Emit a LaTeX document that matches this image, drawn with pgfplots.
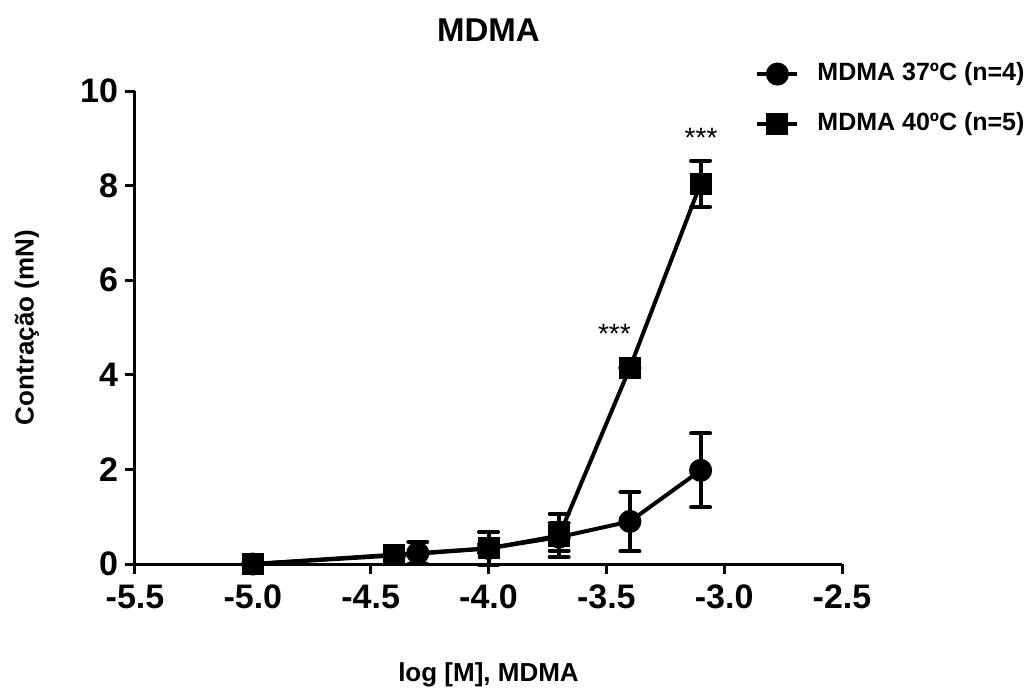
\documentclass[border=0pt]{standalone}
\usepackage{fontspec}
\setmainfont{Liberation Sans}
\usepackage{pgfplots}
\usepackage{pgfplotstable}
\pgfplotsset{compat=1.18}
\pgfplotstableread{
x y e
-5.0 0.00 0.00
-4.3 0.23 0.24
-4.0 0.33 0.10
-3.7 0.57 0.29
-3.4 0.90 0.63
-3.1 1.98 0.78
}\tabA
\pgfplotstableread{
x y e
-5.0 0.00 0.00
-4.4 0.18 0.03
-4.0 0.33 0.35
-3.7 0.60 0.46
-3.4 4.15 0.00
-3.1 8.04 0.49
}\tabB
\begin{document}
\begin{tikzpicture}[x=1pt,y=1pt]
\useasboundingbox (0,0) rectangle (517,346.5);
\begin{axis}[
  at={(67.5pt,64.5pt)}, anchor=south west,
  scale only axis, width=353.5pt, height=236.5pt,
  xmin=-5.5, xmax=-2.5, ymin=0, ymax=10,
  axis x line=bottom, axis y line=left,
  axis line style={line width=1.5pt, -},
  xtick={-5.5,-5,-4.5,-4,-3.5,-3,-2.5}, ytick={0,2,4,6,8,10},
  tick align=outside, major tick length=5pt,
  every tick/.style={black, line width=1.5pt},
  /pgf/number format/assume math mode=true,
  xticklabel style={/pgf/number format/.cd, fixed, fixed zerofill, precision=1, /tikz/.cd, yshift=-2pt},
  yticklabel style={/pgf/number format/.cd, fixed, precision=0},
  tick label style={font=\fontsize{17}{17}\selectfont\bfseries},
  clip=false,
  title={MDMA},
  title style={at={(0.5,1.104)}, anchor=center, font=\fontsize{16.5}{16.5}\selectfont\bfseries},
  xlabel={log [M], MDMA},
  xlabel style={at={(0.5,-0.235)}, anchor=center, font=\fontsize{13}{13}\selectfont\bfseries},
  ylabel={Contração (mN)},
  ylabel style={at={(-0.153,0.5)}, anchor=center, font=\fontsize{13}{13}\selectfont\bfseries},
  legend style={at={(0.877,0.983)}, anchor=west, draw=none, fill=none, inner sep=0pt,
    font=\fontsize{12.5}{12.5}\selectfont\bfseries, row sep=13pt,
    nodes={text height=9pt, text depth=3pt, inner ysep=0pt},
    /tikz/every odd column/.append style={column sep=7pt}},
  legend cell align=left,
  legend image code/.code={\draw[mark repeat=2, mark phase=2, #1] plot coordinates {(0pt,0pt) (10pt,0pt) (20pt,0pt)};},
]
\addplot[black, line width=2pt, mark=*, mark size=4.75pt, mark options={solid, fill=black},
  error bars/.cd, y dir=both, y explicit,
  error bar style={line width=2pt, black},
  error mark options={rotate=90, mark size=4.75pt, line width=2pt, line cap=round, black}]
  table[x=x, y=y, y error=e] {\tabA};
\addlegendentry{MDMA 37ºC (n=4)}
\addplot[black, line width=2pt, mark=square*, mark size=4.5pt, mark options={solid, fill=black},
  error bars/.cd, y dir=both, y explicit,
  error bar style={line width=2pt, black},
  error mark options={rotate=90, mark size=4.75pt, line width=2pt, line cap=round, black}]
  table[x=x, y=y, y error=e] {\tabB};
\addlegendentry{MDMA 40ºC (n=5)}
\node[font=\fontsize{14}{14}\selectfont] at (axis cs:-3.466,4.86) {***};
\node[font=\fontsize{14}{14}\selectfont] at (axis cs:-3.098,9.0) {***};
\end{axis}
\end{tikzpicture}
\end{document}
